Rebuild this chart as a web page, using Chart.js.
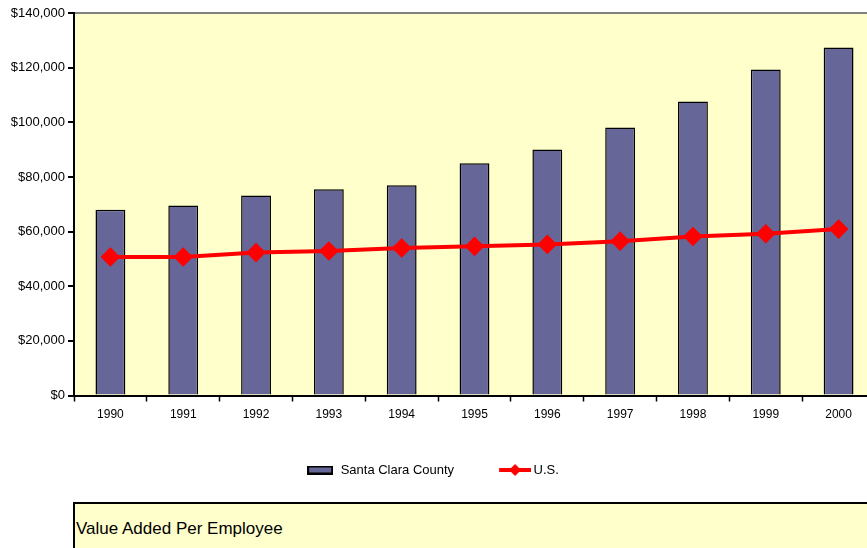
<!DOCTYPE html>
<html>
<head>
<meta charset="utf-8">
<script src="https://cdn.jsdelivr.net/npm/chart.js@4.4.1/dist/chart.umd.min.js"></script>
<style>
  body { margin: 0; background: #fff; overflow: hidden; }
  #wrap { position: relative; width: 867px; height: 548px; overflow: hidden; }
  #chartBox { position: absolute; left: 0; top: 0; width: 892px; height: 494px; }
  #caption {
    position: absolute; left: 73px; top: 502px; width: 820px; height: 60px;
    border: 2px solid #000; background: #ffffcc; box-sizing: border-box;
    font-family: "Liberation Sans", Arial, sans-serif; font-size: 17px; color: #000;
    padding: 15px 0 0 1px;
  }
</style>
</head>
<body>
<div id="wrap">
  <div id="chartBox"><canvas id="valueChart" width="892" height="494"></canvas></div>
  <div id="caption">Value Added Per Employee</div>
</div>
<script>
const years = ['1990', '1991', '1992', '1993', '1994', '1995', '1996', '1997', '1998', '1999', '2000'];
const santaClara = [68000, 69500, 73200, 75500, 77000, 85000, 90000, 98100, 107600, 119300, 127400];
const usValues = [50700, 50700, 52300, 52900, 54000, 54600, 55300, 56500, 58200, 59200, 60900];

const barColor = '#666699';
const lineColor = '#ff0000';

// swatches for the legend
function barSwatch() {
  const c = document.createElement('canvas');
  c.width = 26; c.height = 9;
  const g = c.getContext('2d');
  g.fillStyle = '#000';
  g.fillRect(0, 0, 26, 9);
  g.fillStyle = barColor;
  g.fillRect(2, 2, 22, 5);
  return c;
}
function lineSwatch() {
  const c = document.createElement('canvas');
  c.width = 36; c.height = 14;
  const g = c.getContext('2d');
  g.strokeStyle = lineColor;
  g.lineWidth = 4;
  g.beginPath(); g.moveTo(4, 7); g.lineTo(36, 7); g.stroke();
  g.fillStyle = lineColor;
  g.beginPath(); g.moveTo(20, 1); g.lineTo(26, 7); g.lineTo(20, 13); g.lineTo(14, 7); g.closePath(); g.fill();
  return c;
}

const plotBg = {
  id: 'plotBg',
  beforeDraw(chart) {
    const a = chart.chartArea;
    const ctx = chart.ctx;
    ctx.save();
    ctx.fillStyle = '#ffffcc';
    ctx.fillRect(a.left, a.top, a.right - a.left, a.bottom - a.top);
    ctx.restore();
  }
};

// nudge the legend to where the original sits
const legendNudge = {
  id: 'legendNudge',
  afterLayout(chart) {
    const lg = chart.legend;
    lg.left -= 5; lg.right -= 5;
    lg.top -= 7.5; lg.bottom -= 7.5;
  }
};

const ctx = document.getElementById('valueChart').getContext('2d');
new Chart(ctx, {
  type: 'bar',
  data: {
    labels: years,
    datasets: [{
      label: 'Santa Clara County',
      data: santaClara,
      backgroundColor: barColor,
      borderColor: '#000',
      borderWidth: 1.5,
      barPercentage: 0.41,
      categoryPercentage: 1,
      pointStyle: barSwatch(),
      order: 1
    }, {
      type: 'line',
      label: 'U.S.',
      data: usValues,
      borderColor: lineColor,
      backgroundColor: lineColor,
      borderWidth: 4,
      pointStyle: 'rectRot',
      pointRadius: 7,
      pointBackgroundColor: lineColor,
      pointBorderColor: lineColor,
      tension: 0,
      order: 0
    }]
  },
  options: {
    responsive: false,
    animation: false,
    layout: { padding: { top: 13, left: 0, right: 17, bottom: 0 } },
    plugins: {
      tooltip: { enabled: false },
      legend: {
        position: 'bottom',
        labels: {
          usePointStyle: true,
          pointStyleWidth: 28,
          padding: 45,
          color: '#000',
          font: { family: 'Liberation Sans', size: 13 },
          sort: (a, b) => a.datasetIndex - b.datasetIndex,
          generateLabels: chart => chart.data.datasets.map((ds, i) => ({
            text: ds.label,
            pointStyle: ds.pointStyle === 'rectRot' ? lineSwatch() : ds.pointStyle,
            fillStyle: 'transparent',
            strokeStyle: 'transparent',
            lineWidth: 0,
            fontColor: '#000',
            datasetIndex: i
          }))
        }
      }
    },
    scales: {
      x: {
        offset: true,
        grid: {
          offset: true,
          color: 'transparent',
          tickColor: '#000',
          tickLength: 6,
          tickWidth: 1.5
        },
        border: { color: '#000', width: 2 },
        ticks: {
          color: '#000',
          font: { family: 'Liberation Sans', size: 12 },
          maxRotation: 0,
          padding: 6
        },
        afterFit(scale) { scale.height = 30.5; }
      },
      y: {
        min: 0,
        max: 140000,
        grid: {
          color: c => c.index === 7 ? '#808080' : 'transparent',
          lineWidth: 2,
          tickColor: '#000',
          tickLength: 6,
          tickWidth: 2
        },
        border: { color: '#000', width: 2 },
        ticks: {
          stepSize: 20000,
          color: '#000',
          font: { family: 'Liberation Sans', size: 13 },
          padding: 3,
          callback: v => '$' + v.toLocaleString('en-US')
        },
        afterFit(scale) { scale.width = 74; }
      }
    }
  },
  plugins: [plotBg, legendNudge]
});
</script>
</body>
</html>
